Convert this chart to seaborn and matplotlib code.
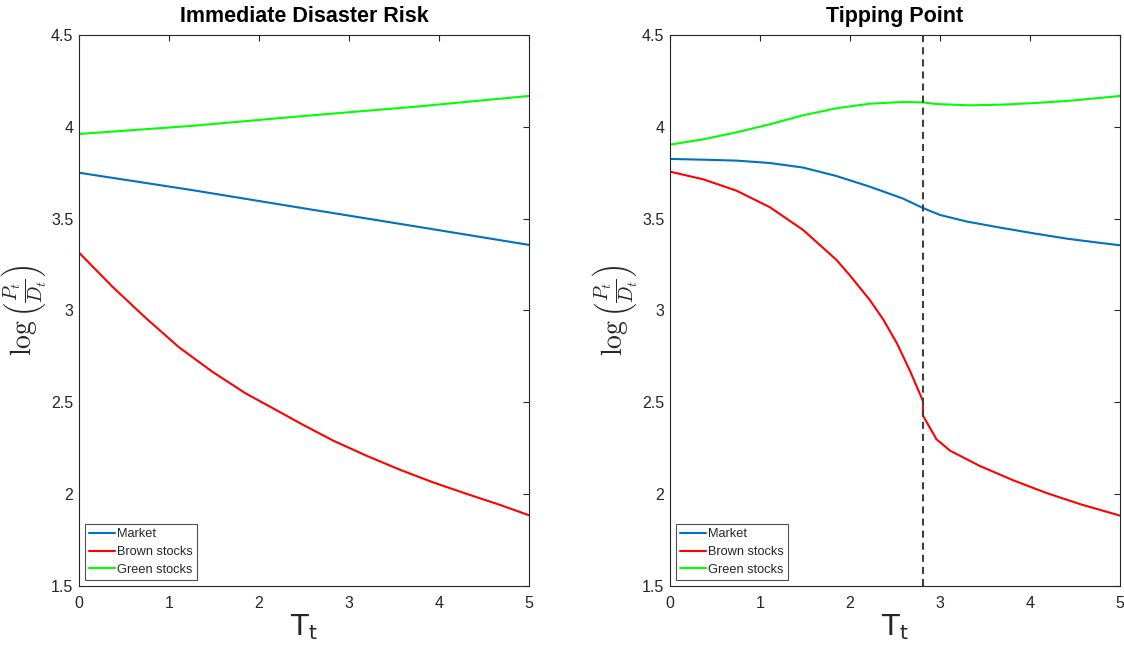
import numpy as np
import pandas as pd
import matplotlib
matplotlib.use('Agg')
import matplotlib.pyplot as plt
import seaborn as sns

# ------------------------------------------
# data
# ------------------------------------------
# Immediate Disaster Risk panel
x_imm_market = [0, 1.25, 2.5, 3.75, 5]
market_imm = [3.75, 3.656, 3.556, 3.457, 3.357]
x_imm_green = [0, 1.25, 2.5, 3.75, 5]
green_imm = [3.961, 4.005, 4.059, 4.11, 4.168]
x_imm_brown = [0, 0.37, 0.74, 1.11, 1.48, 1.85, 2.22, 2.46, 2.83, 3.2, 3.57, 3.94, 4.31, 4.68, 5]
brown_imm = [3.315, 3.13, 2.96, 2.8, 2.667, 2.549, 2.45, 2.385, 2.29, 2.208,
             2.132, 2.063, 2.001, 1.941, 1.885]

# Tipping Point panel (brown has x = 2.81 twice: jump at the tipping point)
tipping_point = 2.81
x_tip_market = [0, 0.37, 0.74, 1.11, 1.48, 1.85, 2.22, 2.59, 2.81, 3.0, 3.3, 3.67, 4.04, 4.41, 4.78, 5]
market_tip = [3.825, 3.821, 3.816, 3.803, 3.778, 3.732, 3.674, 3.609, 3.558, 3.52,
              3.484, 3.451, 3.42, 3.391, 3.368, 3.355]
x_tip_green = [0, 0.37, 0.74, 1.11, 1.48, 1.85, 2.22, 2.59, 2.81, 2.96, 3.33, 3.70, 4.07, 4.44, 4.81, 5]
green_tip = [3.903, 3.932, 3.97, 4.014, 4.063, 4.101, 4.126, 4.135, 4.133, 4.124,
             4.117, 4.121, 4.13, 4.142, 4.159, 4.168]
x_tip_brown = [0, 0.37, 0.74, 1.11, 1.48, 1.85, 2.0, 2.22, 2.37, 2.52, 2.67, 2.81, 2.81,
               2.96, 3.11, 3.44, 3.82, 4.19, 4.56, 5]
brown_tip = [3.756, 3.714, 3.652, 3.562, 3.438, 3.275, 3.19, 3.057, 2.95, 2.822, 2.667, 2.507,
             2.428, 2.299, 2.237, 2.154, 2.074, 2.005, 1.945, 1.883]

series_names = ['Market', 'Brown stocks', 'Green stocks']
series_colors = {'Market': '#0072BD', 'Brown stocks': '#FF0000', 'Green stocks': '#00FF00'}

# ------------------------------------------
# build long tables for seaborn
# ------------------------------------------
def make_df(pairs):
    parts = []
    for name, (x, vals) in zip(series_names, pairs):
        parts.append(pd.DataFrame({'T': x, 'logPD': vals, 'series': name}))
    return pd.concat(parts, ignore_index=True)

df_imm = make_df([(x_imm_market, market_imm), (x_imm_brown, brown_imm), (x_imm_green, green_imm)])
df_tip = make_df([(x_tip_market, market_tip), (x_tip_brown, brown_tip), (x_tip_green, green_tip)])

# ------------------------------------------
# plot
# ------------------------------------------
sns.set_theme(style='white')
plt.rcParams['font.family'] = ['Liberation Sans', 'DejaVu Sans']
plt.rcParams['mathtext.fontset'] = 'cm'

fig = plt.figure(figsize=(11.24, 6.49), dpi=100)
ax1 = fig.add_axes([0.0703, 0.0971, 0.4004, 0.849])
ax2 = fig.add_axes([0.5961, 0.0971, 0.4004, 0.849])

for ax, df, title in [(ax1, df_imm, 'Immediate Disaster Risk'), (ax2, df_tip, 'Tipping Point')]:
    sns.lineplot(data=df, x='T', y='logPD', hue='series', palette=series_colors,
                 hue_order=series_names, estimator=None, sort=False,
                 linewidth=1.5, ax=ax)
    ax.set_xlim(0, 5)
    ax.set_ylim(1.5, 4.5)
    ax.set_xticks([0, 1, 2, 3, 4, 5])
    ax.set_yticks([1.5, 2, 2.5, 3, 3.5, 4, 4.5])
    ax.set_xticklabels(['0', '1', '2', '3', '4', '5'])
    ax.set_yticklabels(['1.5', '2', '2.5', '3', '3.5', '4', '4.5'])
    ax.tick_params(axis='x', pad=7)
    ax.tick_params(direction='in', length=4, width=0.8, colors='#262626',
                   labelsize=11.5, top=True, right=True)
    ax.tick_params(axis='y', pad=4)
    for sp in ax.spines.values():
        sp.set_color('#262626')
        sp.set_linewidth(0.8)
    ax.set_title(title, fontsize=15.5, fontweight='bold', pad=9, color='black')
    ax.set_xlabel('$\\mathrm{T}_\\mathrm{t}$', fontsize=21, labelpad=1,
                  math_fontfamily='dejavusans', color='#262626')
    ax.set_ylabel('$\\log\\left(\\frac{P_t}{D_t}\\right)$', fontsize=20, labelpad=2,
                  color='#262626')
    ax.grid(False)
    leg = ax.legend(loc='lower left', fontsize=9.2, frameon=True, fancybox=False,
                    edgecolor='#262626', borderpad=0.3, labelspacing=0.45,
                    handlelength=2.0, handletextpad=0.2, borderaxespad=0.5)
    leg.get_frame().set_linewidth(0.8)

ax2.axvline(tipping_point, color='#404040', linestyle=(0, (3.4, 2.4)), linewidth=1.5)

plt.savefig('out.png', dpi=100)
